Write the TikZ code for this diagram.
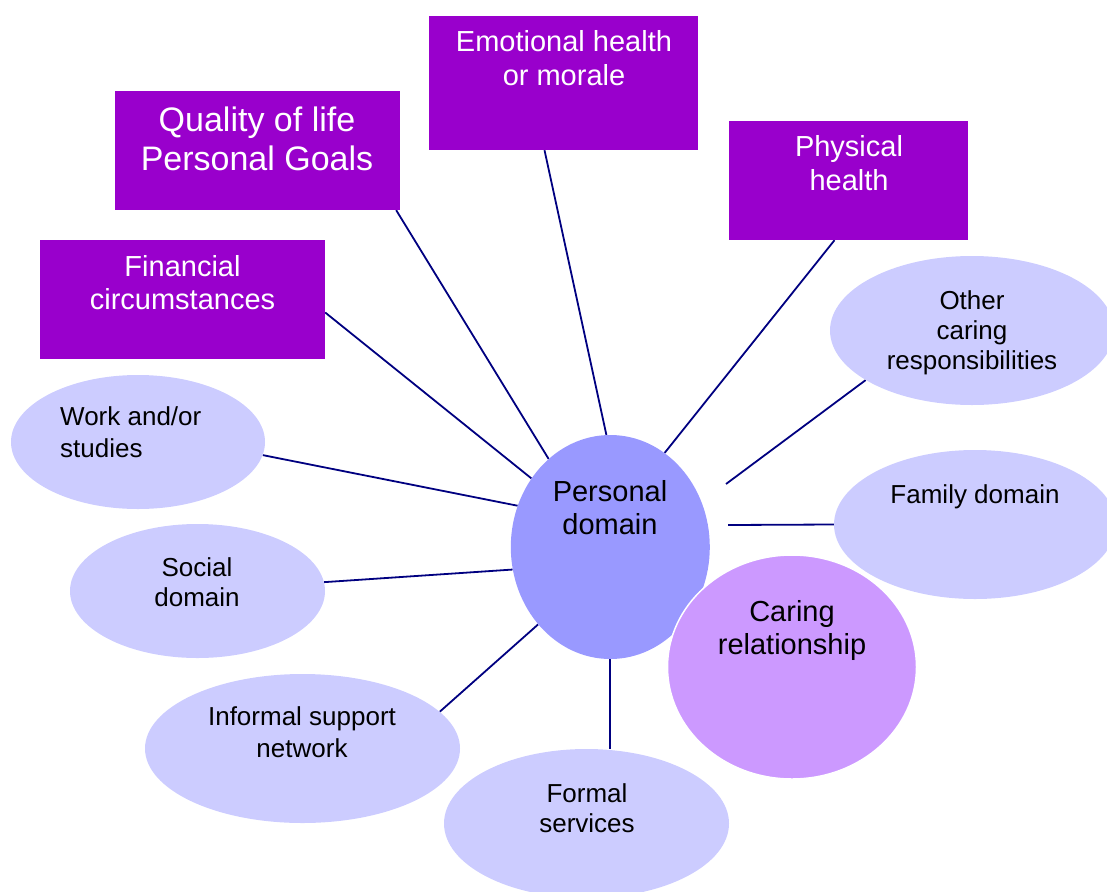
\documentclass[tikz,border=0pt]{standalone}
\usepackage{fontspec}
\setmainfont{Liberation Sans}
\usetikzlibrary{shapes.geometric,calc,backgrounds}
\definecolor{boxpurple}{HTML}{9900CC}
\definecolor{paleblue}{HTML}{CCCCFF}
\definecolor{midblue}{HTML}{9999FF}
\definecolor{lilac}{HTML}{CC99FF}
\definecolor{spokeblue}{HTML}{000080}
\newcommand{\bigtxt}{\fontsize{29}{34}\selectfont}
\newcommand{\smalltxt}{\fontsize{26}{30}\selectfont}
\begin{document}
\begin{tikzpicture}[x=1pt,y=-1pt,
            purplebox/.style={rectangle,fill=boxpurple,inner sep=0pt},
            paleblob/.style={ellipse,fill=paleblue,inner sep=0pt},
            spoke/.style={draw=spokeblue,line width=1.8pt},
            whitetext/.style={text=white,align=center,inner sep=0pt,font=\bigtxt},
            blacktext/.style={text=black,align=center,inner sep=0pt,font=\smalltxt}]
                \useasboundingbox (0,0) rectangle (1107,891);
                \clip (0,0) rectangle (1107,891);
                \draw (257.5,150.5) node [purplebox,minimum width=285pt,minimum height=119pt] (quality) {};
                \draw (257,139.3) node [whitetext,font=\fontsize{34}{39}\selectfont] (quality-text) {Quality of life\\Personal Goals};
                \draw (563.5,83) node [purplebox,minimum width=269pt,minimum height=134pt] (emotional) {};
                \draw (564,58.6) node [whitetext] (emotional-text) {Emotional health\\or morale};
                \draw (848.5,180.5) node [purplebox,minimum width=239pt,minimum height=119pt] (physical) {};
                \draw (849,163.6) node [whitetext] (physical-text) {Physical\\health};
                \draw (182.5,299.5) node [purplebox,minimum width=285pt,minimum height=119pt] (financial) {};
                \draw (182.5,283.1) node [whitetext,font=\fontsize{29}{33}\selectfont] (financial-text) {Financial\\circumstances};
                \draw (138,442) node [paleblob,minimum width=254pt,minimum height=134pt] (work) {};
                \draw (60,431.7) node [blacktext,align=left,anchor=west,font=\fontsize{26}{32}\selectfont] (work-text) {Work and/or\\studies};
                \draw (197.5,591) node [paleblob,minimum width=255pt,minimum height=134pt] (social) {};
                \draw (197,581.7) node [blacktext] (social-text) {Social\\domain};
                \draw (302.5,748.5) node [paleblob,minimum width=315pt,minimum height=149pt] (informal) {};
                \draw (302,731.7) node [blacktext,font=\fontsize{26}{32}\selectfont] (informal-text) {Informal support\\network};
                \draw (586.5,823.5) node [paleblob,minimum width=285pt,minimum height=149pt] (formal) {};
                \draw (587,807.7) node [blacktext] (formal-text) {Formal\\services};
                \draw (972,330.5) node [paleblob,minimum width=284pt,minimum height=149pt] (other) {};
                \draw (972,332.4) node [blacktext] (other-text) {Other\\caring\\responsibilities};
                \draw (975,524.5) node [paleblob,minimum width=282pt,minimum height=149pt] (family) {};
                \draw (975,496.5) node [blacktext] (family-text) {Family domain};
                \draw (610.3,547) node [ellipse,fill=midblue,inner sep=0pt,minimum width=199pt,minimum height=224pt] (personal) {};
                \draw (610,508.1) node [blacktext,font=\fontsize{29}{33}\selectfont] (personal-text) {Personal\\domain};
                \draw (792,667) node [ellipse,fill=lilac,draw=white,line width=1.5pt,inner sep=0pt,minimum width=249pt,minimum height=224pt] (caring) {};
                \draw (792,630.2) node [blacktext,font=\fontsize{29}{33}\selectfont] (caring-text) {Caring\\relationship};
                \coordinate (othertip) at (726,484);
                \coordinate (familytip) at (728,525);
                \begin{scope}[on background layer]
                \draw [spoke] ($(quality.south east)+(-4,0)$) -- (personal.125);
                \draw [spoke] ($(emotional.south)+(-19,0)$) -- (personal.92);
                \draw [spoke] ($(physical.south)+(-14,0)$) -- (personal.60);
                \draw [spoke] ($(financial.east)+(0,13)$) -- (personal.139);
                \draw [spoke] (work.-6) -- (personal.156);
                \draw [spoke] (social.4) -- (personal.193);
                \draw [spoke] (informal.15) -- (personal.227);
                \draw [spoke] (personal.south) -- (personal.south |- formal.north);
                \draw [spoke] (other.205) -- (othertip);
                \draw [spoke] (family.west) -- (familytip);
                \end{scope}
            \end{tikzpicture}
\end{document}
